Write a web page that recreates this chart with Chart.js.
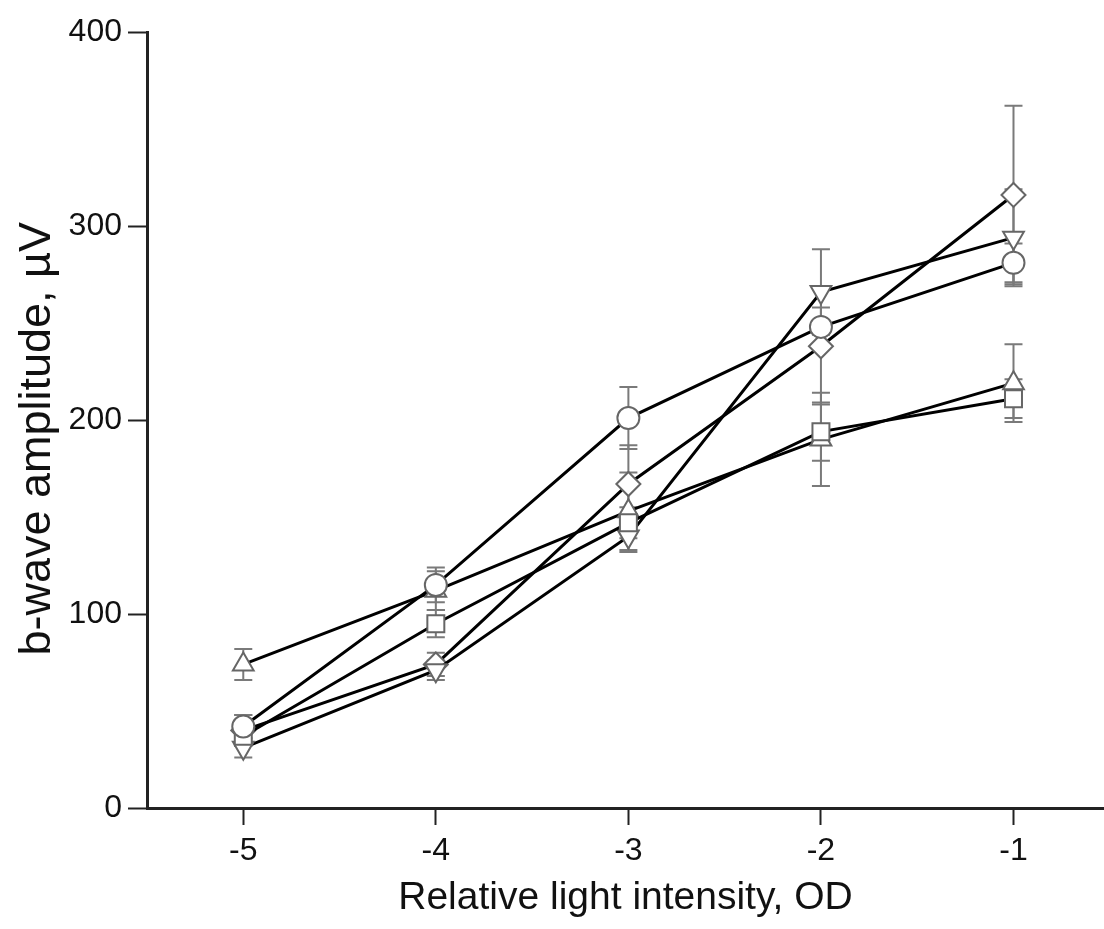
<!DOCTYPE html>
<html>
<head>
<meta charset="utf-8">
<script src="https://cdn.jsdelivr.net/npm/chart.js@4"></script>
<style>
  html, body { margin: 0; padding: 0; background: #fff; }
  #wrap { width: 1104px; height: 929px; }
</style>
</head>
<body>
<div id="wrap"><canvas id="bwaveChart" width="1104" height="929"></canvas></div>
<script>
// relative light intensity (OD)
const intensity = [-5, -4, -3, -2, -1];
const xTicks = [-5, -4, -3, -2, -1];
const yTicks = [0, 100, 200, 300, 400];

// b-wave amplitude (uV), mean and error per group
const circleVals = [42, 115, 201, 248, 281];
const circleErr = [6, 9, 16, 10, 10];
const squareVals = [37, 95, 147, 194, 211];
const squareErr = [5, 7, 8, 15, 10];
const triUpVals = [74, 112, 153, 190, 219];
const triUpErr = [8, 10, 20, 24, 20];
const triDownVals = [31, 71, 140, 266, 294];
const triDownErr = [5, 5, 8, 22, 25];
const diamondVals = [40, 74, 167, 238, 316];
const diamondErr = [8, 6, 20, 30, 46];

const groups = [
  { vals: circleVals, err: circleErr, style: 'circle', radius: 11, rot: 0 },
  { vals: squareVals, err: squareErr, style: 'rect', radius: 12, rot: 0 },
  { vals: triUpVals, err: triUpErr, style: 'triangle', radius: 12, rot: 0 },
  { vals: triDownVals, err: triDownErr, style: 'triangle', radius: 12, rot: 180 },
  { vals: diamondVals, err: diamondErr, style: 'rectRot', radius: 12, rot: 0 }
];

const errorBars = {
  id: 'errorBars',
  beforeDatasetsDraw(chart) {
    const ctx = chart.ctx;
    const xs = chart.scales.x, ys = chart.scales.y;
    ctx.save();
    ctx.strokeStyle = '#7a7a7a';
    ctx.lineWidth = 2;
    groups.forEach(g => {
      g.vals.forEach((v, j) => {
        const x = xs.getPixelForValue(intensity[j]);
        const yt = ys.getPixelForValue(v + g.err[j]);
        const yb = ys.getPixelForValue(v - g.err[j]);
        ctx.beginPath();
        ctx.moveTo(x, yt); ctx.lineTo(x, yb);
        ctx.moveTo(x - 9, yt); ctx.lineTo(x + 9, yt);
        ctx.moveTo(x - 9, yb); ctx.lineTo(x + 9, yb);
        ctx.stroke();
      });
    });
    ctx.restore();
  }
};

new Chart(document.getElementById('bwaveChart').getContext('2d'), {
  type: 'scatter',
  data: {
    datasets: groups.map(g => ({
      data: g.vals.map((v, j) => ({ x: intensity[j], y: v })),
      showLine: true,
      borderColor: '#000',
      borderWidth: 3,
      pointStyle: g.style,
      pointRadius: g.radius,
      pointRotation: g.rot,
      pointBackgroundColor: '#fff',
      pointBorderColor: '#666',
      pointBorderWidth: 2
    }))
  },
  options: {
    responsive: false,
    animation: false,
    layout: { autoPadding: false, padding: { top: 32, right: 0, bottom: 0, left: 0 } },
    plugins: { legend: { display: false }, tooltip: { enabled: false } },
    scales: {
      x: {
        type: 'linear',
        min: -5.5,
        max: -0.53,
        afterFit: s => { s.height = 121; s.paddingLeft = 0; s.paddingRight = 0; },
        afterBuildTicks: s => { s.ticks = xTicks.map(v => ({ value: v })); },
        border: { color: '#222', width: 3 },
        grid: { drawOnChartArea: false, drawTicks: true, tickLength: 17, tickWidth: 2, color: '#222' },
        ticks: {
          padding: 7,
          color: '#111',
          font: { family: "'Liberation Sans', Arial", size: 32 },
          callback: v => String(v)
        },
        title: {
          display: true,
          text: 'Relative light intensity, OD',
          color: '#111',
          padding: { top: 0, bottom: 7 },
          font: { family: "'Liberation Sans', Arial", size: 39 }
        }
      },
      y: {
        min: 0,
        max: 400,
        afterFit: s => { s.width = 147; },
        afterBuildTicks: s => { s.ticks = yTicks.map(v => ({ value: v })); },
        border: { color: '#222', width: 3 },
        grid: { drawOnChartArea: false, drawTicks: true, tickLength: 19, tickWidth: 2, color: '#222' },
        ticks: {
          padding: 6,
          color: '#111',
          font: { family: "'Liberation Sans', Arial", size: 32 }
        },
        title: {
          display: true,
          text: 'b-wave amplitude, µV\u00a0\u00a0\u00a0',
          color: '#111',
          padding: { top: 11, bottom: 0 },
          font: { family: "'Liberation Sans', Arial", size: 45 }
        }
      }
    }
  },
  plugins: [errorBars]
});
</script>
</body>
</html>
